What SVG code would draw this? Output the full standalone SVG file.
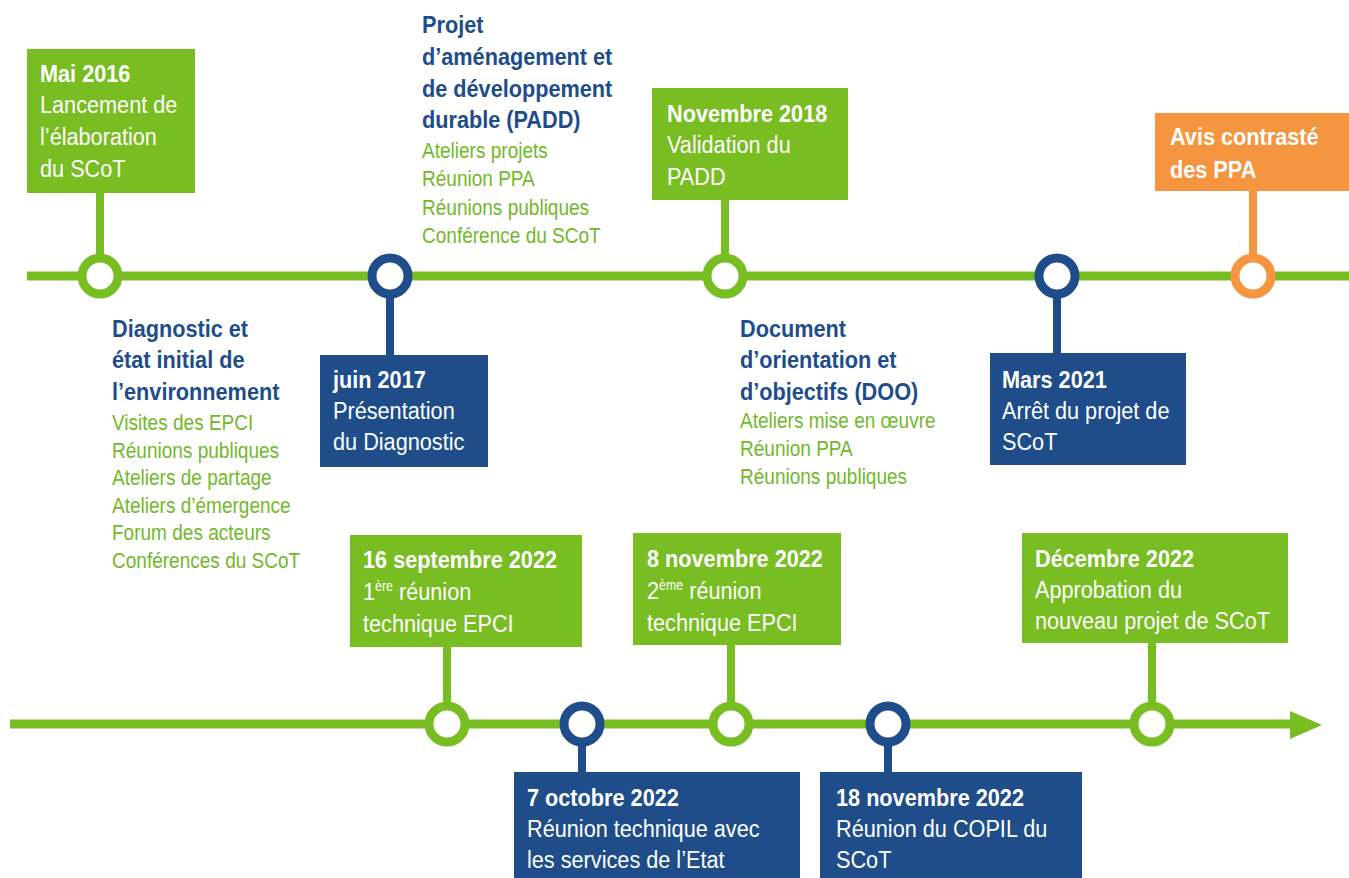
<svg xmlns="http://www.w3.org/2000/svg" width="1349" height="878" viewBox="0 0 1349 878">
<defs>
<style>
.gf{fill:#78BD22}
.bf{fill:#1E4D8A}
.of{fill:#F6953F}
.tx{font-family:"Liberation Sans",Arial,Helvetica,sans-serif;font-size:24.5px}
.bd{font-weight:bold}
.wt{fill:#ffffff}
.bt{fill:#1E4D8A}
.gt{fill:#72B82A}
.sm{font-size:21.5px}
.sup{font-size:14px}
.tl{stroke:#78BD22;stroke-width:9;fill:none}
.sg{stroke:#78BD22;stroke-width:8}
.sb{stroke:#1E4D8A;stroke-width:8}
.so{stroke:#F6953F;stroke-width:8}
.rg{fill:#ffffff;stroke:#78BD22;stroke-width:9}
.rb{fill:#ffffff;stroke:#1E4D8A;stroke-width:9}
.ro{fill:#ffffff;stroke:#F6953F;stroke-width:9}
</style>
</defs>
<rect width="1349" height="878" fill="#ffffff"/>

<g id="connectors">
  <line class="tl" x1="27" y1="276" x2="1349" y2="276"/>
  <line class="tl" x1="10" y1="724" x2="1292" y2="724"/>
  <polygon class="gf" points="1290,711 1322,725 1290,739"/>
  <line class="sg" x1="100" y1="190" x2="100" y2="260"/>
  <line class="sb" x1="390" y1="292" x2="390" y2="358"/>
  <line class="sg" x1="725" y1="197" x2="725" y2="260"/>
  <line class="sb" x1="1057" y1="292" x2="1057" y2="356"/>
  <line class="so" x1="1253" y1="188" x2="1253" y2="260"/>
  <line class="sg" x1="447" y1="644" x2="447" y2="708"/>
  <line class="sb" x1="582" y1="740" x2="582" y2="775"/>
  <line class="sg" x1="731" y1="642" x2="731" y2="708"/>
  <line class="sb" x1="888" y1="740" x2="888" y2="775"/>
  <line class="sg" x1="1152" y1="640" x2="1152" y2="708"/>
</g>

<g id="mai2016">
  <rect class="gf" x="27" y="49" width="168" height="144"/>
  <g transform="translate(40 0) scale(0.885 1)" class="tx wt">
    <text x="0" y="82" class="bd">Mai 2016</text>
    <text x="0" y="113">Lancement de</text>
    <text x="0" y="145">l’élaboration</text>
    <text x="0" y="177">du SCoT</text>
  </g>
  <circle class="rg" cx="100" cy="276" r="18"/>
</g>

<g id="diagnostic">
  <g transform="translate(112 0) scale(0.885 1)" class="tx">
    <text x="0" y="337" class="bd bt">Diagnostic et</text>
    <text x="0" y="368" class="bd bt">état initial de</text>
    <text x="0" y="400" class="bd bt">l’environnement</text>
    <text x="0" y="430" class="gt sm">Visites des EPCI</text>
    <text x="0" y="457.6" class="gt sm">Réunions publiques</text>
    <text x="0" y="485.2" class="gt sm">Ateliers de partage</text>
    <text x="0" y="512.8" class="gt sm">Ateliers d’émergence</text>
    <text x="0" y="540.4" class="gt sm">Forum des acteurs</text>
    <text x="0" y="568" class="gt sm">Conférences du SCoT</text>
  </g>
</g>

<g id="juin2017">
  <circle class="rb" cx="390" cy="276" r="18"/>
  <rect class="bf" x="320" y="355" width="168" height="112"/>
  <g transform="translate(333 0) scale(0.885 1)" class="tx wt">
    <text x="0" y="388" class="bd">juin 2017</text>
    <text x="0" y="419">Présentation</text>
    <text x="0" y="450">du Diagnostic</text>
  </g>
</g>

<g id="padd">
  <g transform="translate(422 0) scale(0.885 1)" class="tx">
    <text x="0" y="33" class="bd bt">Projet</text>
    <text x="0" y="65" class="bd bt">d’aménagement et</text>
    <text x="0" y="97" class="bd bt">de développement</text>
    <text x="0" y="128" class="bd bt">durable (PADD)</text>
    <text x="0" y="158" class="gt sm">Ateliers projets</text>
    <text x="0" y="186.5" class="gt sm">Réunion PPA</text>
    <text x="0" y="215" class="gt sm">Réunions publiques</text>
    <text x="0" y="243" class="gt sm">Conférence du SCoT</text>
  </g>
</g>

<g id="nov2018">
  <rect class="gf" x="652" y="88" width="196" height="112"/>
  <g transform="translate(667 0) scale(0.885 1)" class="tx wt">
    <text x="0" y="122" class="bd">Novembre 2018</text>
    <text x="0" y="153">Validation du</text>
    <text x="0" y="185">PADD</text>
  </g>
  <circle class="rg" cx="725" cy="276" r="18"/>
</g>

<g id="doo">
  <g transform="translate(740 0) scale(0.885 1)" class="tx">
    <text x="0" y="337" class="bd bt">Document</text>
    <text x="0" y="368" class="bd bt">d’orientation et</text>
    <text x="0" y="400" class="bd bt">d’objectifs (DOO)</text>
    <text x="0" y="428" class="gt sm">Ateliers mise en œuvre</text>
    <text x="0" y="456" class="gt sm">Réunion PPA</text>
    <text x="0" y="484" class="gt sm">Réunions publiques</text>
  </g>
</g>

<g id="mars2021">
  <circle class="rb" cx="1057" cy="276" r="18"/>
  <rect class="bf" x="990" y="353" width="196" height="112"/>
  <g transform="translate(1002 0) scale(0.885 1)" class="tx wt">
    <text x="0" y="388" class="bd">Mars 2021</text>
    <text x="0" y="419">Arrêt du projet de</text>
    <text x="0" y="450">SCoT</text>
  </g>
</g>

<g id="avis">
  <rect class="of" x="1155" y="113" width="194" height="78"/>
  <g transform="translate(1170 0) scale(0.885 1)" class="tx wt">
    <text x="0" y="145" class="bd">Avis contrasté</text>
    <text x="0" y="178" class="bd">des PPA</text>
  </g>
  <circle class="ro" cx="1253" cy="276" r="18"/>
</g>

<g id="sept2022">
  <rect class="gf" x="350" y="535" width="232" height="112"/>
  <g transform="translate(363 0) scale(0.885 1)" class="tx wt">
    <text x="0" y="568" class="bd">16 septembre 2022</text>
    <text x="0" y="600">1<tspan class="sup" dy="-9">ère</tspan><tspan dy="9"> réunion</tspan></text>
    <text x="0" y="632">technique EPCI</text>
  </g>
  <circle class="rg" cx="447" cy="724" r="18"/>
</g>

<g id="oct2022">
  <circle class="rb" cx="582" cy="724" r="18"/>
  <rect class="bf" x="514" y="772" width="286" height="106"/>
  <g transform="translate(527 0) scale(0.885 1)" class="tx wt">
    <text x="0" y="806" class="bd">7 octobre 2022</text>
    <text x="0" y="837">Réunion technique avec</text>
    <text x="0" y="868">les services de l’Etat</text>
  </g>
</g>

<g id="nov2022">
  <rect class="gf" x="633" y="533" width="208" height="112"/>
  <g transform="translate(647 0) scale(0.885 1)" class="tx wt">
    <text x="0" y="567" class="bd">8 novembre 2022</text>
    <text x="0" y="599">2<tspan class="sup" dy="-9">ème</tspan><tspan dy="9"> réunion</tspan></text>
    <text x="0" y="631">technique EPCI</text>
  </g>
  <circle class="rg" cx="731" cy="724" r="18"/>
</g>

<g id="nov18_2022">
  <circle class="rb" cx="888" cy="724" r="18"/>
  <rect class="bf" x="820" y="772" width="262" height="106"/>
  <g transform="translate(836 0) scale(0.885 1)" class="tx wt">
    <text x="0" y="806" class="bd">18 novembre 2022</text>
    <text x="0" y="837">Réunion du COPIL du</text>
    <text x="0" y="868">SCoT</text>
  </g>
</g>

<g id="dec2022">
  <rect class="gf" x="1022" y="533" width="266" height="110"/>
  <g transform="translate(1035 0) scale(0.885 1)" class="tx wt">
    <text x="0" y="567" class="bd">Décembre 2022</text>
    <text x="0" y="598">Approbation du</text>
    <text x="0" y="629">nouveau projet de SCoT</text>
  </g>
  <circle class="rg" cx="1152" cy="724" r="18"/>
</g>
</svg>
